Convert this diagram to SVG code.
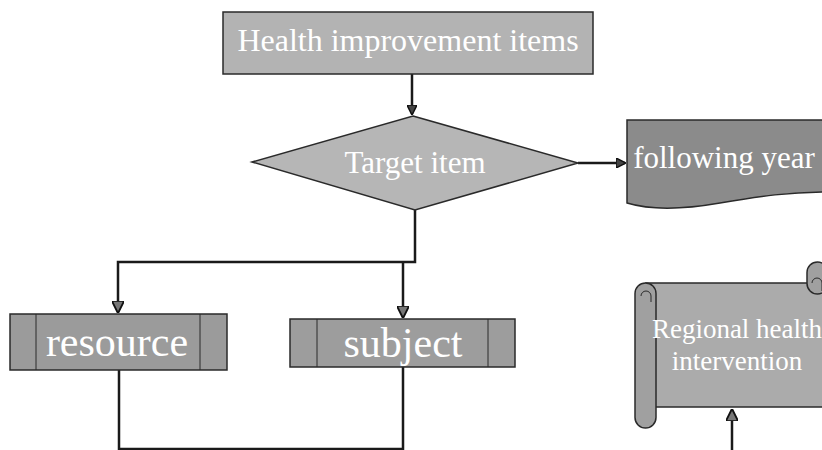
<svg xmlns="http://www.w3.org/2000/svg" width="822" height="450" viewBox="0 0 822 450">
<defs>
<style>
.lbl{font-family:"Liberation Serif","Times New Roman",serif;fill:#ffffff;text-anchor:middle}
.box{stroke:#2a2a2a;stroke-width:1.5}
.conn{fill:none;stroke:#1a1a1a;stroke-width:2.5}
.thin{stroke-width:1}
</style>
<marker id="ah" viewBox="0 0 10 10" refX="9" refY="5" markerWidth="4" markerHeight="4" orient="auto" markerUnits="strokeWidth">
<path d="M0,0 L10,5 L0,10 Z" fill="#444" stroke="#111" stroke-width="1.5"/>
</marker>
<marker id="ahs" viewBox="0 0 10 10" refX="9" refY="5" markerWidth="5" markerHeight="5" orient="auto" markerUnits="strokeWidth">
<path d="M0,0 L10,5 L0,10 Z" fill="#777" stroke="#111" stroke-width="1.5"/>
</marker>
</defs>
<rect width="822" height="450" fill="#ffffff"/>

<g id="connectors">
<line class="conn" x1="412" y1="74" x2="412" y2="114" stroke-width="3" marker-end="url(#ah)"/>
<line class="conn" x1="578" y1="163" x2="625" y2="163" stroke-width="3.5" marker-end="url(#ah)"/>
<polyline class="conn" points="415,210 415,262 118,262 118,312" marker-end="url(#ahs)"/>
<polyline class="conn" points="403,262 403,317" marker-end="url(#ahs)"/>
<polyline class="conn" points="119,370 119,449 403,449 403,367" stroke-width="2"/>
<line class="conn" x1="732" y1="450" x2="732" y2="410" stroke-width="2" marker-end="url(#ahs)"/>
</g>

<g id="health-improvement-items">
<rect class="box" x="223" y="12" width="370" height="62" fill="#b3b3b3"/>
<text class="lbl" x="408" y="51" font-size="32">Health improvement items</text>
</g>

<g id="target-item">
<polygon class="box" points="413,116 578,163 415,210 252,162" fill="#b6b6b6"/>
<text class="lbl" x="415" y="173" font-size="31">Target item</text>
</g>

<g id="following-year">
<path class="box" d="M627,120 H830 V192 C790,192 760,196 720,203 C680,210 650,210 627,203 Z" fill="#8b8b8b"/>
<text class="lbl" x="724" y="168" font-size="31">following year</text>
</g>

<g id="resource">
<rect class="box" x="10" y="314" width="217" height="56" fill="#9b9b9b"/>
<line class="box thin" x1="36" y1="314" x2="36" y2="370"/>
<line class="box thin" x1="200" y1="314" x2="200" y2="370"/>
<text class="lbl" x="117" y="356" font-size="42">resource</text>
</g>

<g id="subject">
<rect class="box" x="290" y="319" width="225" height="48" fill="#9d9d9d"/>
<line class="box thin" x1="317" y1="319" x2="317" y2="367"/>
<line class="box thin" x1="488" y1="319" x2="488" y2="367"/>
<text class="lbl" x="403" y="357" font-size="42">subject</text>
</g>

<g id="regional-health-intervention">
<rect class="box" x="646" y="283" width="190" height="124" fill="#ababab"/>
<rect class="box" x="807" y="262" width="21" height="32" rx="10.5" fill="#a0a0a0"/>
<path class="box thin" d="M812,283 a5,5 0 1 1 10,0 v8" fill="none"/>
<rect class="box" x="635" y="283" width="21" height="145" rx="10.5" fill="#a0a0a0"/>
<path class="box thin" d="M641,296 a5,5 0 1 1 10,0 v6" fill="none"/>
<text class="lbl" x="737" y="338" font-size="27">Regional health</text>
<text class="lbl" x="737" y="370" font-size="27">intervention</text>
</g>
</svg>
